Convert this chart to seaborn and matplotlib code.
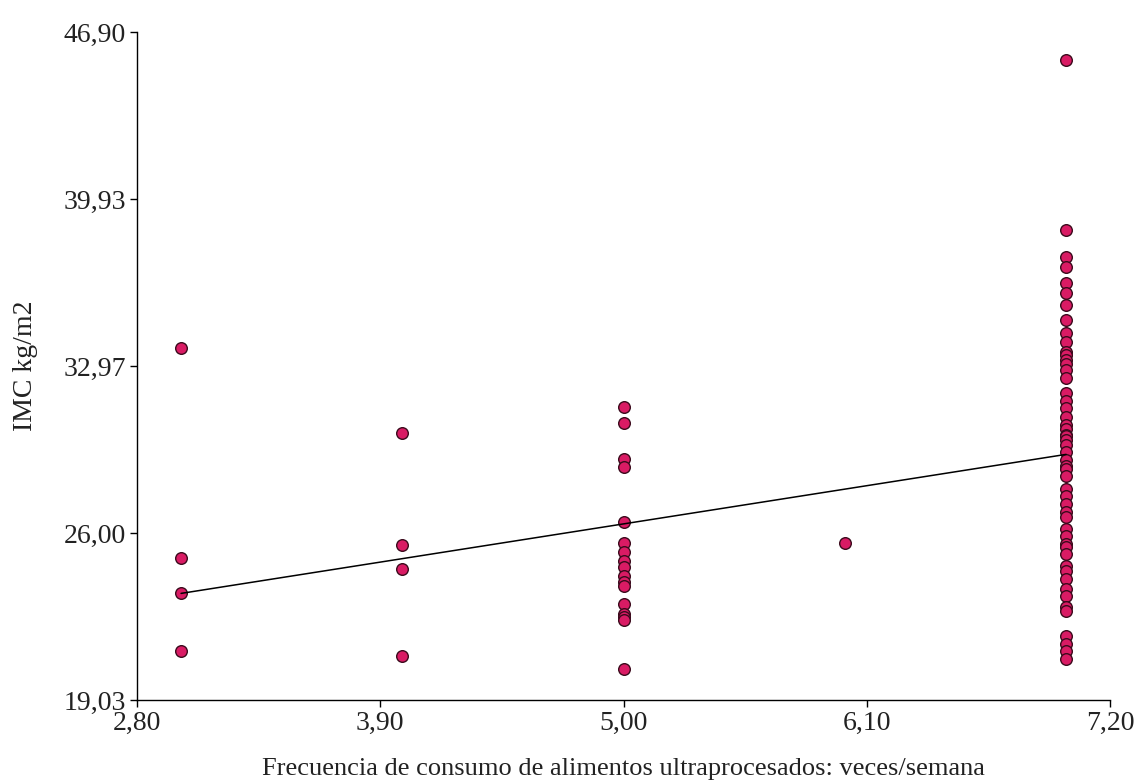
import matplotlib
matplotlib.use("Agg")
import matplotlib.pyplot as plt
import seaborn as sns
import pandas as pd

# Data
imc_f3 = [33.73, 24.94, 23.48, 21.07]
imc_f4 = [30.19, 25.48, 24.48, 20.86]
imc_f5 = [31.27, 30.57, 29.07, 28.77, 26.44, 25.57, 25.20, 24.82, 24.60,
          24.19, 23.95, 23.78, 23.03, 22.60, 22.48, 22.35, 20.32]
imc_f6 = [25.57]
imc_f7 = [45.73, 38.65, 37.53, 37.11, 36.44, 36.03, 35.53, 34.90, 34.36,
          33.98, 33.57, 33.44, 33.20, 33.03, 32.80, 32.48, 31.86, 31.50,
          31.23, 30.82, 30.52, 30.32, 30.10, 30.03, 29.90, 29.69, 29.36,
          29.03, 28.78, 28.65, 28.36, 27.82, 27.53, 27.19, 26.86, 26.65,
          26.15, 25.86, 25.53, 25.40, 25.11, 24.61, 24.40, 24.07, 23.65,
          23.36, 22.90, 22.73, 21.69, 21.36, 21.07, 20.73]

x_ticks = [2.80, 3.90, 5.00, 6.10, 7.20]
y_ticks = [19.03, 26.00, 32.97, 39.93, 46.90]

frecuencia = ([3.0] * len(imc_f3) + [4.0] * len(imc_f4) + [5.0] * len(imc_f5)
              + [6.0] * len(imc_f6) + [7.0] * len(imc_f7))
imc = imc_f3 + imc_f4 + imc_f5 + imc_f6 + imc_f7
df = pd.DataFrame({"frecuencia": frecuencia, "imc": imc})

sns.set_style("ticks")
plt.rcParams["font.family"] = ["Liberation Serif", "DejaVu Serif"]

fig = plt.figure(figsize=(11.4, 7.83), dpi=100)
ax = fig.add_axes([0.120, 0.106, 0.854, 0.853])

sns.regplot(data=df, x="frecuencia", y="imc", ax=ax, ci=None,
            scatter_kws=dict(s=70, color="#d91b64", edgecolor="#3b0a1c",
                             linewidths=1.0, alpha=1),
            line_kws=dict(color="black", linewidth=1.1))

ax.set_xlim(x_ticks[0], x_ticks[-1])
ax.set_ylim(y_ticks[0], y_ticks[-1])
ax.set_xticks(x_ticks)
ax.set_yticks(y_ticks)
ax.set_xticklabels([f"{v:.2f}".replace(".", ",") for v in x_ticks], fontsize=20)
ax.set_yticklabels([f"{v:.2f}".replace(".", ",") for v in y_ticks], fontsize=20)
ax.tick_params(direction="out", length=5, width=1, color="black",
               labelcolor="#222222", pad=3)
for s in ["top", "right"]:
    ax.spines[s].set_visible(False)
for s in ["left", "bottom"]:
    ax.spines[s].set_color("black")
    ax.spines[s].set_linewidth(1.0)

ax.set_xlabel("Frecuencia de consumo de alimentos ultraprocesados: veces/semana",
              fontsize=19, labelpad=16, color="#222222")
ax.set_ylabel("IMC kg/m2", fontsize=20, labelpad=18, color="#222222")

fig.savefig("out.png", dpi=100)
